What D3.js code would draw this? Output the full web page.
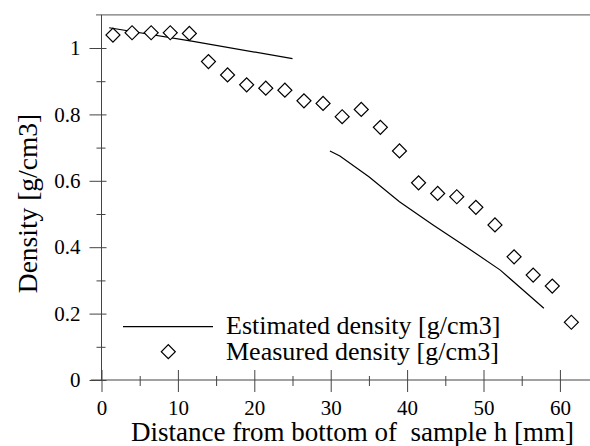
<!DOCTYPE html>
<html>
<head>
<meta charset="utf-8">
<title>Density vs distance</title>
<script src="https://d3js.org/d3.v7.min.js"></script>
<style>
  body { margin: 0; background: #fff; }
</style>
</head>
<body>
<div id="chart"></div>
<script>
// measured density points (diamonds)
const measuredX = [1.5, 4, 6.5, 9, 11.5, 14, 16.5, 19, 21.5, 24, 26.5, 29, 31.5, 34, 36.5, 39, 41.5, 44, 46.5, 49, 51.5, 54, 56.5, 59, 61.5];
const measuredY = [1.039, 1.046, 1.046, 1.046, 1.044, 0.959, 0.919, 0.889, 0.879, 0.873, 0.841, 0.833, 0.793, 0.815, 0.761, 0.690, 0.594, 0.562, 0.552, 0.520, 0.467, 0.371, 0.316, 0.283, 0.174];

// estimated density, two separate pieces
const estUpperX = [1.0, 12, 25];
const estUpperY = [1.061, 1.02, 0.968];
const estLowerX = [29.9, 31.2, 35, 39, 43.4, 47.8, 52.2, 57.9];
const estLowerY = [0.690, 0.675, 0.612, 0.537, 0.467, 0.400, 0.331, 0.216];

const xTicks = [0, 10, 20, 30, 40, 50, 60];
const xMinor = [5, 15, 25, 35, 45, 55];
const yTicks = [0, 0.2, 0.4, 0.6, 0.8, 1];
const yMinor = [0.1, 0.3, 0.5, 0.7, 0.9];

const legendLabels = ["Estimated density [g/cm3]", "Measured density [g/cm3]"];

const W = 590, H = 446;
const serif = '"Liberation Serif", "Times New Roman", serif';

const svg = d3.select("#chart").append("svg")
  .attr("width", W).attr("height", H)
  .style("font-family", serif);

const x = d3.scaleLinear().domain([0, 64.2]).range([101.5, 592]);
const y = d3.scaleLinear().domain([0, 1.1]).range([380, 14.8]);

const axisColor = "#444";

// frame: top line and left axis
svg.append("line")
  .attr("x1", 96).attr("x2", W)
  .attr("y1", y(1.1)).attr("y2", y(1.1))
  .attr("stroke", "#777").attr("stroke-width", 1.2);

svg.append("line")
  .attr("x1", x(0)).attr("x2", x(0))
  .attr("y1", y(1.1)).attr("y2", y(0))
  .attr("stroke", axisColor).attr("stroke-width", 1);

// x axis
svg.append("line")
  .attr("x1", x(-1.4)).attr("x2", W)
  .attr("y1", y(0)).attr("y2", y(0))
  .attr("stroke", axisColor).attr("stroke-width", 1);

const gx = svg.append("g")
  .attr("transform", `translate(0,${y(0)})`)
  .call(d3.axisBottom(x).tickValues(xTicks).tickSize(0).tickPadding(20).tickFormat(d3.format("d")));
gx.attr("font-family", null).attr("font-size", null);
gx.select(".domain").remove();
gx.selectAll(".tick line").attr("y1", -10).attr("y2", 12).attr("stroke", axisColor);
gx.selectAll(".tick text").style("font-family", serif).style("font-size", "21px").attr("fill", "#000");

const gxm = svg.append("g")
  .attr("transform", `translate(0,${y(0)})`)
  .call(d3.axisBottom(x).tickValues(xMinor).tickSize(0).tickFormat(""));
gxm.select(".domain").remove();
gxm.selectAll(".tick line").attr("y1", -4).attr("y2", 6).attr("stroke", axisColor);

// y axis
const gy = svg.append("g")
  .attr("transform", `translate(${x(0)},0)`)
  .call(d3.axisLeft(y).tickValues(yTicks).tickSize(0).tickPadding(21)
    .tickFormat(d => d === 0 || d === 1 ? d3.format("d")(d) : d3.format(".1f")(d)));
gy.attr("font-family", null).attr("font-size", null);
gy.select(".domain").remove();
gy.selectAll(".tick line").attr("x1", -12).attr("x2", 5).attr("stroke", axisColor);
gy.selectAll(".tick text").style("font-family", serif).style("font-size", "21px").attr("fill", "#000");

const gym = svg.append("g")
  .attr("transform", `translate(${x(0)},0)`)
  .call(d3.axisLeft(y).tickValues(yMinor).tickSize(0).tickFormat(""));
gym.select(".domain").remove();
gym.selectAll(".tick line").attr("x1", -5).attr("x2", 4).attr("stroke", axisColor);

// estimated lines
const line = d3.line().x(d => x(d[0])).y(d => y(d[1]));
[[estUpperX, estUpperY], [estLowerX, estLowerY]].forEach(([xs, ys]) => {
  svg.append("path")
    .datum(xs.map((v, i) => [v, ys[i]]))
    .attr("d", line)
    .attr("fill", "none")
    .attr("stroke", "#000")
    .attr("stroke-width", 1.2);
});

// diamonds
const diamond = d3.symbol().type(d3.symbolSquare).size(98);
svg.selectAll(".pt")
  .data(measuredX.map((v, i) => [v, measuredY[i]]))
  .join("path")
  .attr("class", "pt")
  .attr("d", diamond)
  .attr("transform", d => `translate(${x(d[0])},${y(d[1])}) rotate(45)`)
  .attr("fill", "#fff")
  .attr("stroke", "#000")
  .attr("stroke-width", 1.2);

// legend
const lg = svg.append("g");
lg.append("line")
  .attr("x1", 123).attr("x2", 213).attr("y1", 326.7).attr("y2", 326.7)
  .attr("stroke", "#000").attr("stroke-width", 1.2);
lg.append("path")
  .attr("d", diamond)
  .attr("transform", "translate(168.3,351.7) rotate(45)")
  .attr("fill", "#fff").attr("stroke", "#000").attr("stroke-width", 1.2);
lg.selectAll("text.leg")
  .data(legendLabels)
  .join("text")
  .attr("class", "leg")
  .attr("x", 226)
  .attr("y", (d, i) => 333.5 + i * 26)
  .style("font-family", serif)
  .style("font-size", "26px")
  .text(d => d);

// axis titles
svg.append("text")
  .attr("x", 352.5).attr("y", 441)
  .attr("text-anchor", "middle")
  .style("font-family", serif)
  .style("font-size", "27px")
  .style("white-space", "pre")
  .text("Distance from bottom of  sample h [mm]");

svg.append("text")
  .attr("transform", "translate(37,203.5) rotate(-90)")
  .attr("text-anchor", "middle")
  .style("font-family", serif)
  .style("font-size", "27.5px")
  .text("Density [g/cm3]");
</script>
</body>
</html>
